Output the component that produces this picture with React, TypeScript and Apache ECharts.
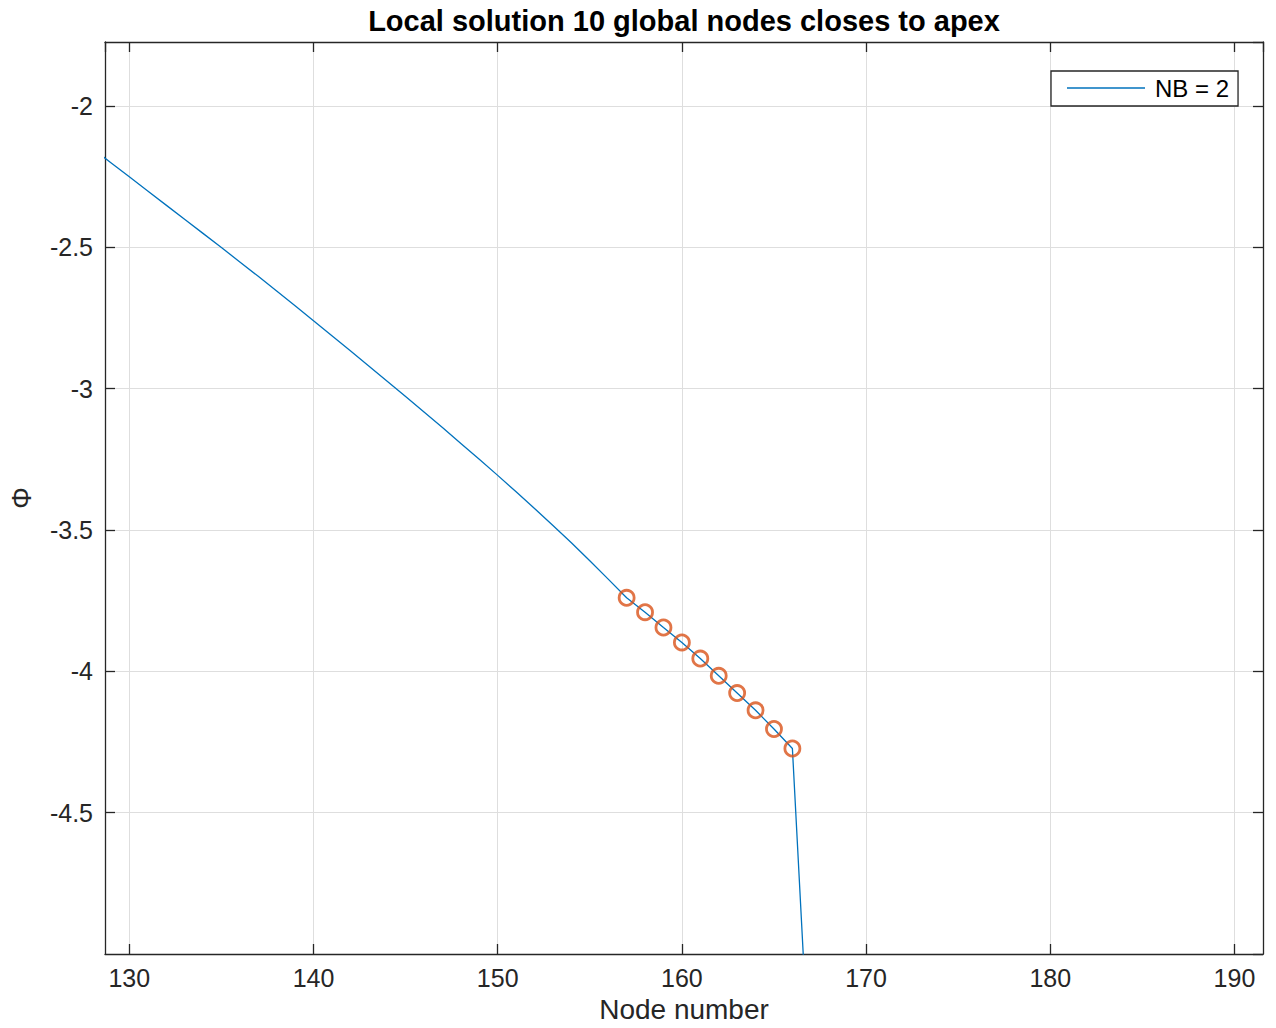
import React, { useEffect, useRef } from "react";
import * as echarts from "echarts";

const titleText = "Local solution 10 global nodes closes to apex";
const xLabel = "Node number";
const yLabel = "Φ";
const legendName = "NB = 2";

const nodeNumbers = [
  128, 129, 130, 131, 132, 133, 134, 135, 136, 137, 138, 139, 140, 141, 142,
  143, 144, 145, 146, 147, 148, 149, 150, 151, 152, 153, 154, 155, 156, 157,
  158, 159, 160, 161, 162, 163, 164, 165, 166, 167,
];
const phiValues = [
  -2.151, -2.201, -2.251, -2.301, -2.351, -2.401, -2.451, -2.501, -2.552,
  -2.603, -2.655, -2.707, -2.76, -2.813, -2.866, -2.92, -2.974, -3.028, -3.083,
  -3.138, -3.194, -3.25, -3.307, -3.365, -3.424, -3.484, -3.545, -3.609, -3.674,
  -3.74, -3.791, -3.845, -3.898, -3.955, -4.016, -4.077, -4.138, -4.204, -4.273,
  -5.51,
];

const localNodes = [157, 158, 159, 160, 161, 162, 163, 164, 165, 166];
const localPhi = [
  -3.74, -3.791, -3.845, -3.898, -3.955, -4.016, -4.077, -4.138, -4.204, -4.273,
];

const xMin = 128.68;
const xMax = 191.55;
const yMin = -5.0;
const yMax = -1.774;

const FONT = "'Liberation Sans', Arial, Helvetica, sans-serif";
const AXIS_COLOR = "#262626";
const GRID_COLOR = "#dedede";

export default function App() {
  const ref = useRef<HTMLDivElement>(null);

  useEffect(() => {
    if (!ref.current) return;
    const chart = echarts.init(ref.current, undefined, { renderer: "svg" });

    const xFmt = (v: number) =>
      Math.abs(v - Math.round(v / 10) * 10) < 1e-6 ? String(Math.round(v)) : "";
    const yFmt = (v: number) => {
      const r = Math.round(v * 2) / 2;
      if (Math.abs(v - r) > 1e-6) return "";
      if (v < -4.99 || v > -1.8) return "";
      return String(r);
    };

    const lineData = nodeNumbers.map((x, i) => [x, phiValues[i]]);
    const markerData = localNodes.map((x, i) => [x, localPhi[i]]);

    chart.setOption({
      animation: false,
      backgroundColor: "#ffffff",
      title: {
        text: titleText,
        left: 684,
        top: 6,
        padding: 0,
        textAlign: "center",
        textStyle: {
          fontFamily: FONT,
          fontSize: 29,
          fontWeight: "bold",
          color: "#000000",
        },
      },
      legend: {
        data: [legendName],
        left: 1051,
        top: 71,
        padding: [5, 9, 6, 16],
        borderColor: AXIS_COLOR,
        borderWidth: 1.3,
        backgroundColor: "#ffffff",
        icon: "rect",
        itemWidth: 78,
        itemHeight: 1.5,
        textStyle: {
          fontFamily: FONT,
          fontSize: 24,
          color: "#000000",
          padding: [0, 0, 0, 5],
        },
      },
      grid: {
        left: 105,
        top: 42,
        right: 13,
        bottom: 72,
        containLabel: false,
      },
      xAxis: [
        {
          type: "value",
          min: xMin,
          max: xMax,
          splitNumber: 5,
          name: xLabel,
          nameLocation: "middle",
          nameGap: 41,
          nameTextStyle: { fontFamily: FONT, fontSize: 28, color: AXIS_COLOR },
          axisLine: { show: true, onZero: false, lineStyle: { color: AXIS_COLOR, width: 1.3 } },
          axisTick: { show: true, inside: true, length: 10, lineStyle: { color: AXIS_COLOR, width: 1.3 } },
          axisLabel: {
            formatter: xFmt,
            margin: 11,
            fontFamily: FONT,
            fontSize: 25,
            color: AXIS_COLOR,
            showMinLabel: false,
            showMaxLabel: false,
          },
          splitLine: { show: true, lineStyle: { color: GRID_COLOR, width: 1 } },
        },
        {
          type: "value",
          position: "top",
          min: xMin,
          max: xMax,
          splitNumber: 5,
          axisLine: { show: true, onZero: false, lineStyle: { color: AXIS_COLOR, width: 1.3 } },
          axisTick: { show: true, inside: true, length: 10, lineStyle: { color: AXIS_COLOR, width: 1.3 } },
          axisLabel: { show: false },
          splitLine: { show: false },
        },
      ],
      yAxis: [
        {
          type: "value",
          min: yMin,
          max: yMax,
          splitNumber: 5,
          name: yLabel,
          nameLocation: "middle",
          nameGap: 70,
          nameRotate: 90,
          nameTextStyle: { fontFamily: FONT, fontSize: 27, color: AXIS_COLOR },
          axisLine: { show: true, onZero: false, lineStyle: { color: AXIS_COLOR, width: 1.3 } },
          axisTick: { show: true, inside: true, length: 10, lineStyle: { color: AXIS_COLOR, width: 1.3 } },
          axisLabel: {
            formatter: yFmt,
            margin: 12,
            fontFamily: FONT,
            fontSize: 25,
            color: AXIS_COLOR,
            showMinLabel: false,
            showMaxLabel: false,
          },
          splitLine: { show: true, lineStyle: { color: GRID_COLOR, width: 1 } },
        },
        {
          type: "value",
          position: "right",
          min: yMin,
          max: yMax,
          splitNumber: 5,
          axisLine: { show: true, onZero: false, lineStyle: { color: AXIS_COLOR, width: 1.3 } },
          axisTick: { show: true, inside: true, length: 10, lineStyle: { color: AXIS_COLOR, width: 1.3 } },
          axisLabel: { show: false },
          splitLine: { show: false },
        },
      ],
      series: [
        {
          name: legendName,
          type: "line",
          data: lineData,
          xAxisIndex: 0,
          yAxisIndex: 0,
          showSymbol: false,
          symbol: "none",
          clip: true,
          lineStyle: { color: "#0072BD", width: 1.3 },
          itemStyle: { color: "#0072BD" },
          z: 2,
        },
        {
          name: "local",
          type: "scatter",
          data: markerData,
          xAxisIndex: 0,
          yAxisIndex: 0,
          symbol: "circle",
          symbolSize: 15,
          itemStyle: {
            color: "rgba(0,0,0,0)",
            borderColor: "#D95319",
            borderWidth: 2.8,
          },
          z: 3,
        },
      ],
    });

    return () => {
      chart.dispose();
    };
  }, []);

  return (
    <div
      ref={ref}
      style={{ position: "absolute", left: 0, top: 0, width: 1276, height: 1028 }}
    />
  );
}
